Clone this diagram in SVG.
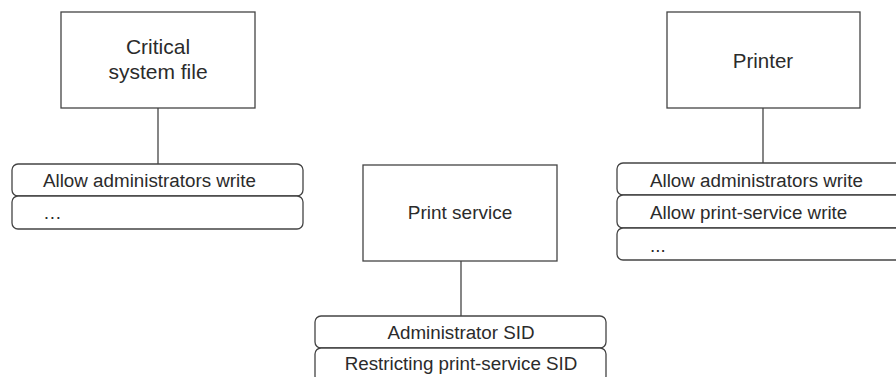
<svg xmlns="http://www.w3.org/2000/svg" width="896" height="377" viewBox="0 0 896 377">
<style>
.box{fill:#fff;stroke:#444;stroke-width:1.3}
.row{fill:#fff;stroke:#444;stroke-width:1.3}
.t{font-family:"Liberation Sans",Arial,sans-serif;fill:#2b2b2b}
.title{font-size:20.5px;text-anchor:middle}
.rt{font-size:18.8px}
.c{text-anchor:middle}
.conn{stroke:#444;stroke-width:1.3;fill:none}
</style>
<rect width="896" height="377" fill="#fff"/>
<g id="connectors">
<line class="conn" x1="158" y1="108" x2="158" y2="164"/>
<line class="conn" x1="763" y1="108" x2="763" y2="163"/>
<line class="conn" x1="461" y1="261" x2="461" y2="316"/>
</g>
<g id="critical-file">
<rect class="box" x="61" y="12" width="194" height="96"/>
<text class="t title" x="158" y="54" style="font-size:21px">Critical</text>
<text class="t title" x="158" y="79" style="font-size:21px">system file</text>
</g>
<g id="critical-acl">
<rect class="row" x="12" y="164" width="291" height="32" rx="6"/>
<rect class="row" x="12" y="196" width="291" height="33" rx="6"/>
<text class="t rt" x="43" y="187">Allow administrators write</text>
<text class="t rt" x="43" y="219">…</text>
</g>
<g id="printer">
<rect class="box" x="667" y="12" width="193" height="96"/>
<text class="t title" x="763" y="68">Printer</text>
</g>
<g id="printer-acl">
<rect class="row" x="617" y="163" width="291" height="32" rx="6"/>
<rect class="row" x="617" y="195" width="291" height="33" rx="6"/>
<rect class="row" x="617" y="228" width="291" height="32" rx="6"/>
<text class="t rt" x="650" y="187">Allow administrators write</text>
<text class="t rt" x="650" y="219">Allow print-service write</text>
<text class="t rt" x="650" y="252">...</text>
</g>
<g id="print-service">
<rect class="box" x="363" y="165" width="194" height="96"/>
<text class="t title" x="460" y="219" style="font-size:19px">Print service</text>
</g>
<g id="print-service-token">
<rect class="row" x="315" y="316" width="291" height="32" rx="6"/>
<rect class="row" x="315" y="348" width="291" height="34" rx="6"/>
<text class="t rt c" x="461" y="339">Administrator SID</text>
<text class="t rt c" x="461" y="370">Restricting print-service SID</text>
</g>
</svg>
